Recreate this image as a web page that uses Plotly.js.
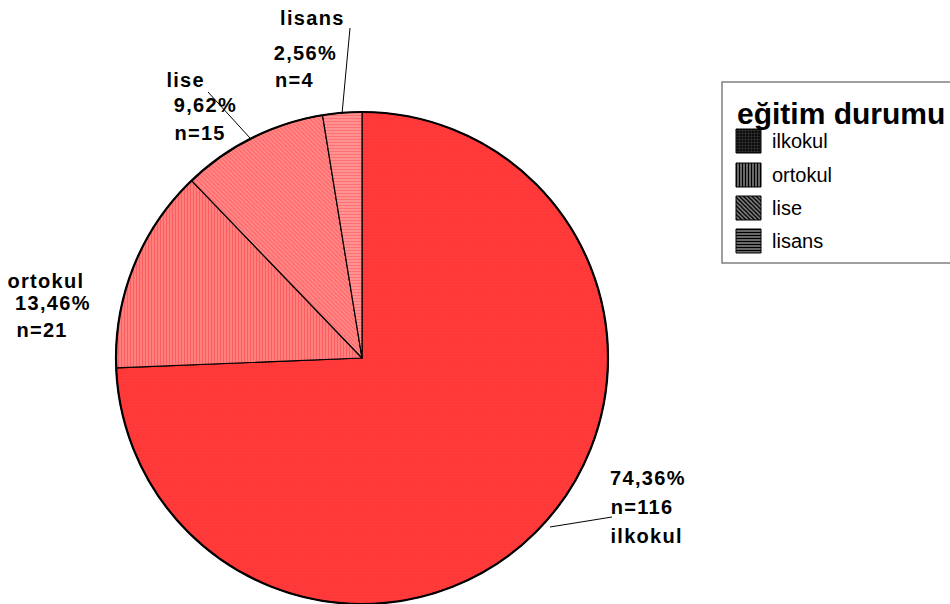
<!DOCTYPE html>
<html>
<head>
<meta charset="utf-8">
<script src="https://cdn.plot.ly/plotly-3.0.1.min.js"></script>
<style>
html,body{margin:0;padding:0;background:#fff;}
#chart{width:950px;height:604px;}
</style>
</head>
<body>
<div id="chart"></div>
<script>
// ---- data ----
var categories = ["ilkokul", "ortokul", "lise", "lisans"];
var counts = [116, 21, 15, 4];
var legendTitle = "eğitim durumu";

// ---- styles ----
var sliceBg = ["#ff3b3b", "#ff8585", "#ff8d8d", "#ff9a9a"];
var sliceFg = ["#ff2f2f", "#ff3838", "#ff3c3c", "#ff4545"];
var sliceShape = [".", "|", "\\", "-"];
var swatchShape = [".", "|", "\\", "-"];
var swatchBg = ["#000000", "#8a8a8a", "#8a8a8a", "#8a8a8a"];
var swatchFg = ["#333333", "#000000", "#000000", "#000000"];

var W = 950, H = 604;
var cx = 362, cy = 358, R = 246;

var total = counts.reduce(function(a,b){return a+b;},0);
var pctText = counts.map(function(v){return (v/total*100).toFixed(2).replace('.', ',') + '%';});
var nText = counts.map(function(v){return 'n=' + v;});

var pie = {
  type: 'pie',
  values: counts,
  labels: categories,
  sort: false,
  direction: 'clockwise',
  rotation: 0,
  textinfo: 'none',
  hoverinfo: 'none',
  showlegend: false,
  domain: {x: [(cx-R)/W, (cx+R)/W], y: [1-(cy+R)/H, 1-(cy-R)/H]},
  marker: {
    colors: sliceBg,
    line: {color: '#000', width: 1.2},
    pattern: {shape: sliceShape, fgcolor: sliceFg, bgcolor: sliceBg, size: 3, solidity: 0.45, fillmode: 'overlay'}
  }
};

var traces = [pie];

// legend swatches on a hidden pixel axis
var legX = 736, legSw = 25, rowY = [141, 175, 208, 241];
categories.forEach(function(c, i){
  var y0 = rowY[i]-12, y1 = rowY[i]+12;
  traces.push({
    type: 'scatter', mode: 'lines', xaxis: 'x', yaxis: 'y',
    x: [legX, legX+legSw, legX+legSw, legX, legX],
    y: [y0, y0, y1, y1, y0],
    fill: 'toself', fillcolor: swatchBg[i],
    fillpattern: {shape: swatchShape[i], fgcolor: swatchFg[i], bgcolor: swatchBg[i], size: 3, solidity: 0.5},
    line: {color: '#000', width: 1},
    hoverinfo: 'skip', showlegend: false
  });
});

var font = {family: '"Liberation Sans", Arial, sans-serif', size: 20, color: '#000'};
function ann(txt, x, y){
  return {xref: 'x', yref: 'y', x: x, y: y, text: '<b>' + txt + '</b>', showarrow: false,
          xanchor: 'left', yanchor: 'middle', font: font};
}
var annotations = [];
// label positions (layout)
var labelPos = [
  [[612,478],[612,507],[613,536]],   // ilkokul: pct, n, label
  [[17,303],[17,330],[10,281]],      // ortokul
  [[175,105],[175,133],[167,80]],    // lise
  [[275,53],[275,80],[282,18]]       // lisans
];
categories.forEach(function(c, i){
  annotations.push(ann(pctText[i], labelPos[i][0][0], labelPos[i][0][1]));
  annotations.push(ann(nText[i], labelPos[i][1][0], labelPos[i][1][1]));
  annotations.push(ann(c, labelPos[i][2][0], labelPos[i][2][1]));
});
// legend title & items
annotations.push({xref:'x', yref:'y', x: 735, y: 113, text: '<b>' + legendTitle + '</b>', showarrow: false,
  xanchor: 'left', yanchor: 'middle', font: {family: '"Liberation Sans", Arial, sans-serif', size: 30, color: '#000'}});
categories.forEach(function(c, i){
  annotations.push({xref:'x', yref:'y', x: 770, y: rowY[i], text: c, showarrow: false,
    xanchor: 'left', yanchor: 'middle', font: {family: '"Liberation Sans", Arial, sans-serif', size: 20, color: '#000'}});
});

var shapes = [
  // legend box (runs off the right edge)
  {type: 'path', xref: 'x', yref: 'y', path: 'M 1000 82 L 722 82 L 722 263 L 1000 263', line: {color: '#808080', width: 1.5}, fillcolor: 'rgba(0,0,0,0)', layer: 'below'},
  // outer pie rim
  {type: 'circle', xref: 'x', yref: 'y', x0: cx-R, x1: cx+R, y0: cy-R, y1: cy+R, line: {color: '#000', width: 2.2}, fillcolor: 'rgba(0,0,0,0)'},
  // leader lines
  {type: 'line', xref: 'x', yref: 'y', x0: 550, y0: 527, x1: 612, y1: 517, line: {color: '#000', width: 1}},
  {type: 'line', xref: 'x', yref: 'y', x0: 208, y0: 92, x1: 250, y1: 138, line: {color: '#000', width: 1}},
  {type: 'line', xref: 'x', yref: 'y', x0: 350, y0: 28, x1: 342, y1: 114, line: {color: '#000', width: 1}}
];

var layout = {
  width: W, height: H,
  margin: {l: 0, r: 0, t: 0, b: 0},
  paper_bgcolor: '#fff', plot_bgcolor: 'rgba(0,0,0,0)',
  showlegend: false,
  xaxis: {range: [0, W], visible: false, fixedrange: true, domain: [0,1]},
  yaxis: {range: [H, 0], visible: false, fixedrange: true, domain: [0,1]},
  annotations: annotations,
  shapes: shapes
};

Plotly.newPlot('chart', traces, layout, {staticPlot: true, displayModeBar: false}).then(function(gd){
  // widen letter spacing for pie labels like the original
  var nodes = gd.querySelectorAll('.annotation');
  for (var i = 0; i < categories.length*3 && i < nodes.length; i++) {
    var t = nodes[i].querySelector('text');
    if (t) t.setAttribute('letter-spacing', '1.3');
  }
});
</script>
</body>
</html>
